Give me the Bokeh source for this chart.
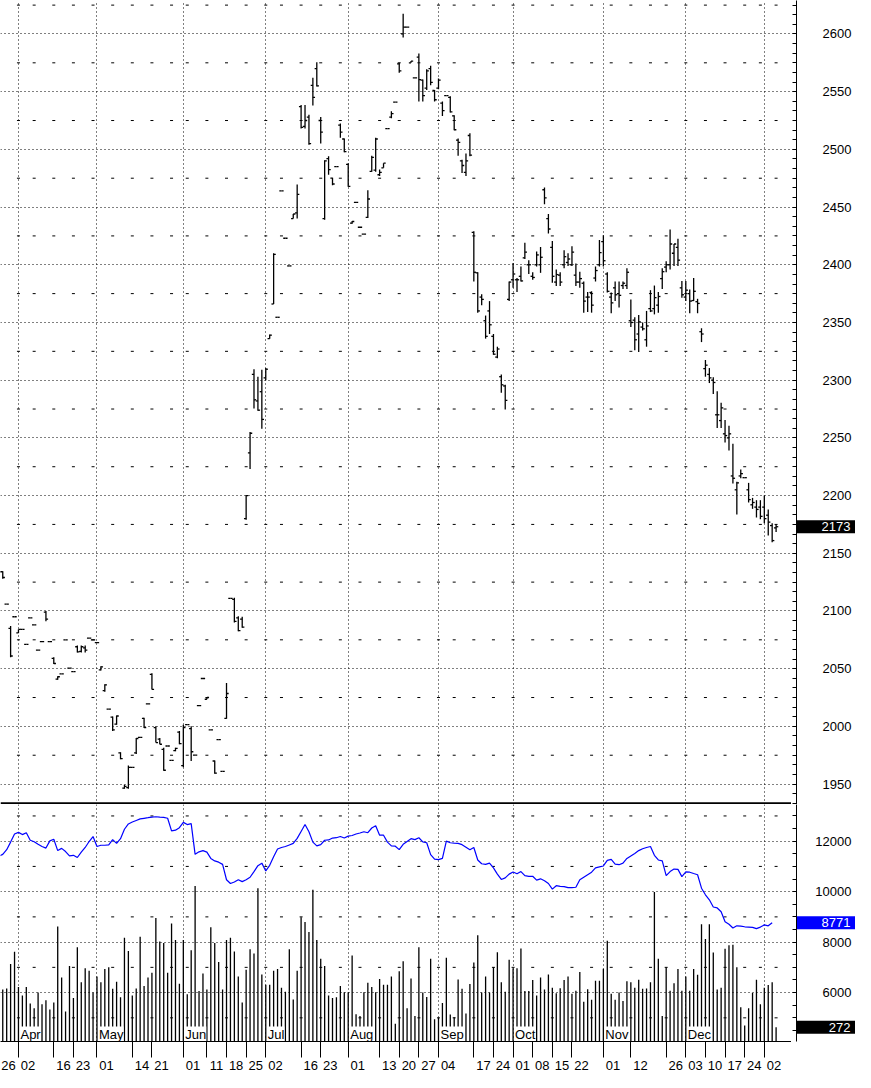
import pandas as pd
from bokeh.plotting import figure
from bokeh.models import (Range1d, FixedTicker, SingleIntervalTicker, Grid, Span,
                          ColumnDataSource, CustomJSTickFormatter)
from bokeh.layouts import column, row
from bokeh.embed import file_html
from bokeh.resources import INLINE
from bokeh.core.properties import value

FONT = "Liberation Sans"

# ---------------- trading calendar ----------------
holidays = ["2007-04-06", "2007-05-28", "2007-07-04", "2007-09-03",
            "2007-11-22", "2007-12-25", "2008-01-01"]
dates = [d for d in pd.bdate_range("2007-03-26", "2008-01-07")
         if d.strftime("%Y-%m-%d") not in holidays]
idx = list(range(len(dates)))

# ---------------- data ----------------
opens = [2128, 2134, 2106, 2085, 2095, 2081, 2084, 2071, 2094, 2088,
         2066, 2073.5, 2099, 2073.5, 2059, 2041, 2045.5, 2075, 2050.5, 2047.5,
         2069, 2065, 2068, 2076.5, 2075, 2072.5, 2049, 2031, 2015, 2008,
         2002, 1977, 1946.5, 1947, 1964.5, 1977, 1990.5, 2007, 2019.5, 2045,
         1999, 1989, 1980, 1983, 1970.5, 1979, 1995, 1966, 2001.5, 1998,
         1975, 2018, 2041.5, 2023.5, 1997, 1970, 1988.5, 1961, 2007, 2111,
         2110, 2094, 2093, 2180, 2237, 2305, 2282, 2290, 2302, 2336,
         2366, 2354.5, 2464, 2423, 2399, 2440, 2445, 2537, 2520, 2528,
         2555.5, 2570, 2525, 2440, 2492, 2475, 2485, 2521, 2509, 2487,
         2436, 2454, 2432.5, 2426.5, 2441, 2481, 2482, 2478, 2484, 2518,
         2528, 2541, 2574, 2600, 2606, 2575, 2562, 2580, 2560, 2553,
         2570, 2551, 2553, 2540, 2546.5, 2545, 2529, 2508, 2490, 2480,
         2512, 2428, 2393, 2372, 2351.5, 2360, 2338, 2320, 2303, 2295,
         2370, 2387, 2387, 2390, 2406, 2400, 2390, 2400, 2400, 2465,
         2440, 2415, 2385, 2391, 2400, 2402, 2400, 2391, 2385, 2384,
         2372, 2376, 2388.5, 2400, 2420, 2392, 2372, 2380, 2375, 2382,
         2382, 2351.5, 2352, 2340, 2346, 2335, 2362, 2362, 2365, 2388,
         2398, 2400, 2410, 2415, 2380, 2372, 2375, 2369, 2368, 2342,
         2310, 2305, 2300, 2270, 2265, 2253.5, 2250, 2217, 2205, 2217,
         2215.5, 2205, 2192, 2190, 2190, 2190, 2183, 2174, 2172]
highs = [2135, 2134.5, 2106, 2087, 2095, 2084, 2084, 2071, 2094, 2088,
         2066, 2073.5, 2100, 2073.5, 2060, 2043.5, 2045.5, 2075, 2050.5, 2047.5,
         2070, 2070, 2070, 2076.5, 2075, 2072.5, 2052, 2036.5, 2015, 2008.5,
         2009.5, 1977.5, 1949.5, 1966, 1964.5, 1990, 1990.5, 2007.5, 2019.5, 2046,
         2000, 1990, 1981.5, 1983, 1970.5, 1981.5, 1996, 2001.5, 2001.5, 2000,
         1975, 2018, 2041.5, 2025.5, 1997, 1970.5, 1988.5, 1961, 2037.5, 2111,
         2111.5, 2095.5, 2095, 2200.5, 2255, 2309.5, 2303, 2309, 2310.5, 2339.5,
         2410, 2354.5, 2464, 2423, 2399, 2444, 2469.5, 2538.5, 2538.5, 2530,
         2562, 2575.5, 2528, 2490.5, 2494, 2475.5, 2485, 2522.5, 2509.5, 2488,
         2438, 2454, 2432.5, 2426.5, 2464.5, 2494.5, 2510, 2482.5, 2488, 2518,
         2533, 2541, 2575, 2617.5, 2606, 2576.5, 2562, 2583, 2560.5, 2569.5,
         2572.5, 2551.5, 2561.5, 2541.5, 2546.5, 2546, 2529.5, 2509.5, 2491, 2496.5,
         2514, 2429, 2393.5, 2374.5, 2356, 2368.5, 2340, 2329, 2305, 2296,
         2385.5, 2401.5, 2388.5, 2398.5, 2419, 2404, 2393.5, 2411.5, 2415.5, 2467,
         2444, 2420.5, 2396, 2393.5, 2412.5, 2410, 2416, 2401, 2394, 2385.5,
         2376.5, 2377, 2398.5, 2421.5, 2425.5, 2393.5, 2376, 2385.5, 2385.5, 2385.5,
         2397, 2370, 2354.5, 2356.5, 2350, 2360, 2378, 2382, 2376.5, 2397,
         2403, 2430.5, 2418, 2422.5, 2386, 2386, 2378.5, 2388.5, 2370.5, 2345,
         2317.5, 2310.5, 2302.5, 2290.5, 2280.5, 2265.5, 2260.5, 2245, 2212, 2222.5,
         2215.5, 2211, 2198, 2196, 2196, 2200, 2188, 2176, 2175]
lows = [2126, 2128, 2106, 2060, 2095, 2081, 2084, 2071, 2094, 2088,
        2066, 2073.5, 2091, 2073.5, 2054, 2040.5, 2045.5, 2075, 2050.5, 2047.5,
        2064, 2064, 2064, 2076.5, 2075, 2072.5, 2048.5, 2030, 2015, 1996,
        2001.5, 1971.5, 1946, 1946, 1964.5, 1976, 1990.5, 1998.5, 2019.5, 2032,
        1986, 1984.5, 1961.5, 1983, 1970.5, 1978.5, 1984.5, 1964.5, 2001.5, 1970,
        1975, 2018, 2041.5, 2023.5, 1997, 1959, 1988.5, 1961, 2006.5, 2111,
        2090, 2082.5, 2085.5, 2179, 2223, 2275.5, 2273.5, 2258, 2300, 2336,
        2366, 2354.5, 2464, 2423, 2399, 2440, 2440, 2518, 2518, 2504,
        2538, 2554.5, 2505, 2439, 2478, 2469, 2485, 2510, 2497.5, 2467.5,
        2435.5, 2454, 2432.5, 2426.5, 2440.5, 2480.5, 2480.5, 2477, 2484, 2518,
        2527, 2541, 2566.5, 2597, 2606, 2575, 2562, 2541.5, 2541.5, 2551.5,
        2555.5, 2541.5, 2552, 2529, 2546.5, 2532, 2516.5, 2494.5, 2479.5, 2477,
        2494, 2385.5, 2358.5, 2365, 2336, 2340, 2322, 2319, 2289, 2274.5,
        2368.5, 2380, 2376.5, 2385.5, 2405, 2392, 2387, 2398.5, 2393, 2452.5,
        2427, 2384.5, 2381.5, 2381.5, 2397, 2399, 2399, 2381.5, 2380, 2358.5,
        2359, 2358.5, 2385.5, 2398.5, 2398.5, 2376, 2358, 2368.5, 2363, 2379,
        2379, 2346, 2326, 2324.5, 2343, 2329, 2359, 2357, 2358.5, 2379,
        2393.5, 2396, 2399, 2399, 2371.5, 2368.5, 2358, 2368.5, 2358, 2333,
        2303, 2297.5, 2288, 2258.5, 2258.5, 2246, 2239, 2210.5, 2183.5, 2215,
        2215.5, 2194, 2188.5, 2181, 2179.5, 2176, 2165.5, 2159.5, 2168.5]
closes = [2134, 2129, 2106, 2061, 2095, 2084, 2084, 2071, 2094, 2088,
          2066, 2073.5, 2093, 2073.5, 2054.5, 2043, 2045.5, 2075, 2050.5, 2047.5,
          2064.5, 2069, 2066, 2076.5, 2075, 2072.5, 2051.5, 2036, 2015, 1997,
          2009, 1972, 1948, 1964.5, 1964.5, 1989.5, 1990.5, 1999, 2019.5, 2032,
          1986, 1984.5, 1962, 1983, 1970.5, 1981, 1985, 1999, 2001.5, 1978,
          1975, 2018, 2041.5, 2025, 1997, 1959.5, 1988.5, 1961, 2028.5, 2111,
          2091, 2083, 2086, 2200, 2254, 2283, 2274, 2266, 2309.5, 2339,
          2409, 2354.5, 2464, 2423, 2399, 2444, 2461, 2519, 2525, 2505,
          2545, 2555, 2515, 2490, 2482.5, 2470, 2485, 2515, 2498, 2468,
          2437.5, 2454, 2432.5, 2426.5, 2457, 2493, 2509, 2480, 2488, 2518,
          2531, 2541, 2568, 2606, 2606, 2576.5, 2562, 2560.5, 2546.5, 2568,
          2558, 2543, 2560, 2533.5, 2546.5, 2532.5, 2517, 2506, 2486, 2490,
          2495, 2393.5, 2360, 2370, 2338, 2348, 2322.5, 2327, 2296, 2282.5,
          2385, 2392, 2387, 2386, 2411, 2400, 2389, 2408.5, 2406.5, 2458,
          2431, 2390, 2391.5, 2385, 2407, 2405, 2411, 2385, 2388, 2368.5,
          2372, 2365, 2395, 2410.5, 2403.5, 2377, 2367, 2374, 2373.5, 2384,
          2393.5, 2350, 2335, 2350.5, 2344.5, 2347, 2360, 2371.5, 2372.5, 2394,
          2400, 2418, 2418, 2404, 2374, 2378, 2368.5, 2377, 2366.5, 2340,
          2313, 2302, 2298, 2270, 2276, 2252, 2253.5, 2215, 2211, 2219,
          2215.5, 2196.5, 2194, 2188, 2182, 2180, 2177, 2161, 2173]
volume = [1000, 985, 1003, 1466, 1697, 1032, 872, 1032, 718, 629,
          926, 706, 783, 605, 736, 2178, 1210, 570, 1430, 825,
          1786, 1121, 1388, 1341, 926, 1228, 1121, 1371, 1406, 997,
          1133, 837, 1964, 1715, 872, 1003, 1982, 1050, 1210, 1299,
          2338, 1893, 1863, 1299, 2231, 1922, 1092, 1922, 896, 1727,
          2943, 955, 1288, 985, 2160, 1863, 1507, 985, 1922, 1964,
          1703, 1228, 736, 1359, 1744, 1667, 2901, 1270, 1074, 1074,
          1341, 1371, 1015, 943, 1744, 795, 1341, 2350, 2261, 2071,
          2872, 1922, 1566, 1430, 872, 825, 837, 1050, 932, 932,
          1626, 516, 481, 932, 1110, 1032, 932, 1181, 1074, 1074,
          1228, 338, 1329, 1519, 629, 1193, 481, 1786, 926, 843,
          1566, 421, 451, 730, 1584, 510, 457, 1175, 997, 528,
          1086, 1495, 2011, 926, 1228, 926, 1406, 1691, 1121, 943,
          1549, 1388, 1388, 1762, 955, 955, 1163, 872, 1210, 985,
          1270, 1015, 914, 1009, 1163, 1228, 902, 961, 1317, 754,
          991, 789, 1151, 1151, 1377, 1905, 902, 789, 926, 765,
          1139, 1121, 1015, 1169, 997, 1003, 1121, 2830, 1566, 481,
          1406, 961, 1104, 1371, 961, 1228, 961, 1371, 1264, 2219,
          1940, 2219, 1685, 985, 1015, 1756, 1821, 1833, 1406, 647,
          303, 629, 920, 1169, 706, 1015, 1068, 1121, 272]
open_interest = [11404, 11478, 11664, 11963, 12286, 12348, 12261, 12335, 12037, 11975,
                 11876, 11789, 11727, 12012, 12074, 11627, 11714, 11590, 11416, 11441,
                 11354, 11565, 11751, 11987, 12185, 11789, 11838, 11838, 11851, 12062,
                 11913, 12099, 12472, 12683, 12758, 12820, 12882, 12907, 12931, 12956,
                 12969, 12956, 12944, 12907, 12410, 12435, 12534, 12745, 12658, 12696,
                 11478, 11578, 11627, 11565, 11317, 11217, 11168, 11081, 10472, 10323,
                 10385, 10472, 10397, 10472, 10571, 10795, 11031, 11130, 10820, 11043,
                 11379, 11689, 11751, 11789, 11851, 11913, 12112, 12385, 12658, 12373,
                 11963, 11814, 11863, 12037, 12050, 12124, 12137, 12186, 12124, 12199,
                 12224, 12286, 12323, 12373, 12335, 12522, 12609, 12236, 12236, 11963,
                 11814, 11801, 11664, 11876, 11987, 12099, 12062, 12137, 11975, 11938,
                 11466, 11292, 11267, 11317, 12000, 11938, 11925, 11913, 11863, 11764,
                 11664, 11751, 11255, 11105, 11081, 11130, 10944, 10695, 10484, 10546,
                 10695, 10782, 10708, 10795, 10633, 10609, 10609, 10459, 10509, 10435,
                 10323, 10099, 10236, 10211, 10199, 10161, 10161, 10174, 10472, 10571,
                 10671, 10770, 10944, 10981, 11018, 11242, 11279, 11093, 11068, 11130,
                 11317, 11416, 11515, 11627, 11702, 11751, 11789, 11441, 11255, 11217,
                 10633, 10795, 10894, 10882, 10596, 10782, 10770, 10720, 10671, 10137,
                 9876, 9677, 9391, 9354, 9205, 8807, 8708, 8559, 8646, 8633,
                 8608, 8596, 8584, 8534, 8596, 8683, 8646, 8771]

tick_dates = ["2007-03-26", "2007-04-02", "2007-04-16", "2007-04-23", "2007-05-01",
              "2007-05-14", "2007-05-21", "2007-06-01", "2007-06-11", "2007-06-18",
              "2007-06-25", "2007-07-02", "2007-07-16", "2007-07-23", "2007-08-01",
              "2007-08-13", "2007-08-20", "2007-08-27", "2007-09-04", "2007-09-17",
              "2007-09-24", "2007-10-01", "2007-10-08", "2007-10-15", "2007-10-22",
              "2007-11-01", "2007-11-12", "2007-11-26", "2007-12-03", "2007-12-10",
              "2007-12-17", "2007-12-24", "2008-01-02"]
month_names = ["Apr", "May", "Jun", "Jul", "Aug", "Sep", "Oct", "Nov", "Dec"]

# ---------------- derived positions (trading-day index) ----------------
pos = {d.strftime("%Y-%m-%d"): i for i, d in enumerate(dates)}
tick_idx = [pos[d] for d in tick_dates]
tick_text = [d[8:] for d in tick_dates]
label_centers = [i + 2.45 for i in tick_idx]
month_idx = [i for i in idx[1:] if dates[i].month != dates[i - 1].month]
week_idx = [i for i in idx[1:] if dates[i].weekday() < dates[i - 1].weekday()] + [idx[-1] + 5]

src = ColumnDataSource(dict(x=idx, o=opens, h=highs, l=lows, c=closes, v=volume,
                            xl=[i - 0.55 for i in idx], xr=[i + 0.55 for i in idx]))
oi_src = ColumnDataSource(dict(x=idx[:len(open_interest)], oi=open_interest))

# ---------------- layout geometry ----------------
WL, WR, TICK = 791, 64, 5          # plot column, scale column, tick border
H1, H2, BB = 804, 268, 20
xr = Range1d(0.425, 201.925)
price_range = Range1d(1932.3, 2629.0)
oi_range = Range1d(4062, 13453.5)
vol_range = Range1d(0, 4485.6)
LW = 1.3


def make(width, height, yr, bottom, xloc, yloc, left=0, x_range=xr):
    p = figure(width=width, height=height, x_range=x_range, y_range=yr,
               x_axis_location=xloc, y_axis_location=yloc, toolbar_location=None,
               output_backend="svg", min_border_left=left, min_border_right=0,
               min_border_top=0, min_border_bottom=bottom, background_fill_color="white",
               border_fill_color="white", outline_line_color=None)
    for g in p.grid:
        g.visible = False
    return p


def dotted_grids(p, hticks):
    p.add_layout(Grid(dimension=0, ticker=FixedTicker(ticks=month_idx),
                      grid_line_color="black", grid_line_dash="1 3", grid_line_width=1))
    p.add_layout(Grid(dimension=1, ticker=FixedTicker(ticks=hticks),
                      grid_line_color="black", grid_line_dash="1 3", grid_line_width=1))


def scale_column(height, yr, bottom, interval, nminor):
    q = make(WR, height, yr, bottom, None, "left", left=TICK, x_range=Range1d(0, WR - TICK))
    ax = q.yaxis[0]
    ax.ticker = SingleIntervalTicker(interval=interval, num_minor_ticks=nminor)
    ax.major_tick_in = 0
    ax.major_tick_out = 4
    ax.minor_tick_in = 0
    ax.minor_tick_out = 4
    ax.major_label_standoff = -59
    ax.major_label_text_font = FONT
    ax.major_label_text_font_size = "13px"
    ax.major_label_text_color = "black"
    ax.axis_line_color = "black"
    ax.major_tick_line_color = "black"
    ax.minor_tick_line_color = "black"
    return q


def value_box(q, y, text, color, y_range_name="default"):
    q.rect(x=[(WR - TICK) / 2], y=[y], width=WR - TICK, height=13, height_units="screen",
           fill_color=color, line_color=None, y_range_name=y_range_name)
    q.text(x=[WR - TICK - 5], y=[y], text=[text], text_align="right",
           text_baseline="middle", text_color="white", text_font=value(FONT),
           text_font_size="13px", y_range_name=y_range_name)


# ----- price panel -----
p1 = make(WL, H1, price_range, 0, None, None)
dotted_grids(p1, list(range(1950, 2601, 50)))
lv1 = list(range(1975, 2630, 50))
p1.scatter([w for _ in lv1 for w in week_idx], [lv for lv in lv1 for _ in week_idx],
           marker="dash", size=3, line_color="black", line_width=1)
p1.segment(x0="x", y0="l", x1="x", y1="h", source=src, line_color="black", line_width=LW)
p1.segment(x0="xl", y0="o", x1="x", y1="o", source=src, line_color="black", line_width=LW)
p1.segment(x0="x", y0="c", x1="xr", y1="c", source=src, line_color="black", line_width=LW)
p1.add_layout(Span(location=1933.3, dimension="width", line_color="black", line_width=2))

q1 = scale_column(H1, price_range, 0, 50, 6)
value_box(q1, closes[-1], f"{closes[-1]:.0f}", "black")

# ----- volume / open interest panel -----
p2 = make(WL, H2, oi_range, BB, "below", None)
p2.extra_y_ranges = {"vol": vol_range}
dotted_grids(p2, [6000, 8000, 10000, 12000])
lv2 = [5000, 7000, 9000, 11000, 13000]
p2.scatter([w for _ in lv2 for w in week_idx], [lv for lv in lv2 for _ in week_idx],
           marker="dash", size=3, line_color="black", line_width=1)
p2.segment(x0="x", y0=0, x1="x", y1="v", source=src, y_range_name="vol",
           line_color="black", line_width=LW)
p2.line(x="x", y="oi", source=oi_src, line_color="#0000FF", line_width=1.2)
p2.text(x=month_idx[:len(month_names)], y=[0] * len(month_names), text=month_names,
        y_range_name="vol", x_offset=2, text_font=value(FONT), text_font_size="13px",
        text_baseline="bottom", text_align="left", text_color="black",
        background_fill_color="white")

xa = p2.xaxis[0]
xa.ticker = FixedTicker(ticks=label_centers, minor_ticks=tick_idx)
xa.formatter = CustomJSTickFormatter(args=dict(pos=label_centers, lab=tick_text), code="""
    const k = pos.findIndex(v => Math.abs(v - tick) < 0.01);
    return k >= 0 ? lab[k] : "";
""")
xa.major_tick_line_color = None
xa.major_tick_in = 0
xa.major_tick_out = 0
xa.minor_tick_in = 0
xa.minor_tick_out = 16
xa.minor_tick_line_color = "black"
xa.axis_line_color = "black"
xa.major_label_standoff = 3
xa.major_label_text_font = FONT
xa.major_label_text_font_size = "13px"
xa.major_label_text_color = "black"

q2 = scale_column(H2, oi_range, BB, 2000, 4)
q2.extra_y_ranges = {"vol": vol_range}
value_box(q2, open_interest[-1], f"{open_interest[-1]}", "#0000FF")
value_box(q2, volume[-1], f"{volume[-1]}", "black", y_range_name="vol")

layout = column(row(p1, q1, spacing=0), row(p2, q2, spacing=0), spacing=0)
open("out.html", "w").write(file_html(layout, INLINE))
